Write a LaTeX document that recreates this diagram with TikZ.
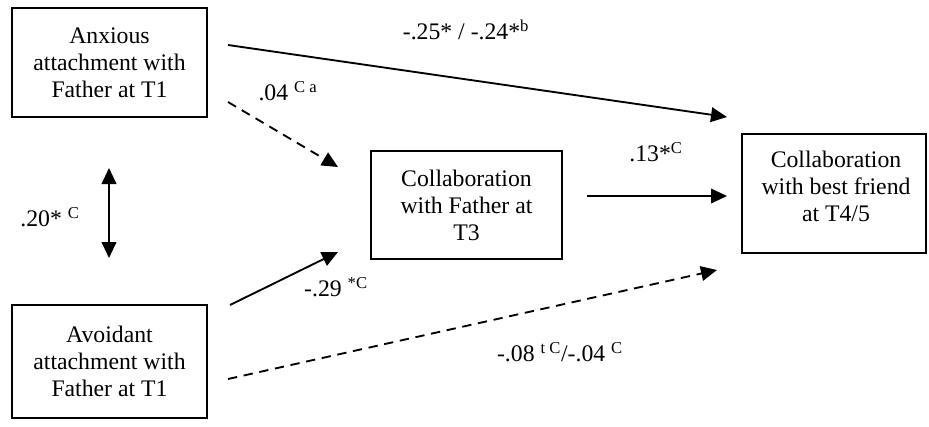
\documentclass[tikz,border=0pt]{standalone}
\usepackage{fontspec}
\setmainfont{Liberation Serif}
\usetikzlibrary{arrows.meta,positioning}

\begin{document}
\begin{tikzpicture}[
  x=0.75pt, y=-0.75pt,
  font=\fontsize{17.8}{20.3}\selectfont,
  box/.style={draw, line width=1.3pt, align=center, inner sep=0pt},
  arrow/.style={-{Triangle[length=12pt, width=11pt]}, line width=1.4pt},
  dasharrow/.style={arrow, dash pattern=on 7pt off 5pt},
  lbl/.style={inner sep=0pt}
]
\useasboundingbox (0,0) rectangle (929,426);
% boxes
\node[box, minimum width=146pt, minimum height=82pt] (anx) at (109.5,62.5) {Anxious\\attachment with\\Father at T1};
\node[box, minimum width=146pt, minimum height=85pt] (avo) at (109.5,361.5) {Avoidant\\attachment with\\Father at T1};
\node[box, minimum width=143pt, minimum height=81pt] (t3) at (466.5,205) {Collaboration\\with Father at\\T3};
\node[box, minimum width=138pt, minimum height=89pt] (t45) at (834,193.5) {};
\node[align=center, inner sep=0pt] (t45txt) at (836,186.5) {Collaboration\\with best friend\\at T4/5};
% arrow ends
\coordinate (anxA) at (228,45);
\coordinate (anxB) at (228,102);
\coordinate (avoA) at (230,305);
\coordinate (avoB) at (228,379);
\coordinate (t3in1) at (338,167);
\coordinate (t3in2) at (338,252);
\coordinate (t3out) at (587,196);
\coordinate (t45in1) at (727,117);
\coordinate (t45in2) at (727,196);
\coordinate (t45in3) at (717,270);
\coordinate (corrA) at (109,168);
\coordinate (corrB) at (109,258);
% paths
\draw[arrow] (anxA) -- (t45in1);
\draw[dasharrow] (anxB) -- (t3in1);
\draw[arrow] (avoA) -- (t3in2);
\draw[arrow] (t3out) -- (t45in2);
\draw[dasharrow] (avoB) -- (t45in3);
\draw[{Triangle[length=12pt, width=11pt]}-{Triangle[length=12pt, width=11pt]}, line width=1.4pt] (corrA) -- (corrB);
% coefficients
\node[lbl] (l1) at (466,30) {-.25* / -.24*\textsuperscript{b}};
\node[lbl] (l2) at (288,91) {.04 \textsuperscript{C a}};
\node[lbl] (l3) at (50,217) {.20* \textsuperscript{C}};
\node[lbl] (l4) at (656,152) {.13*\textsuperscript{C}};
\node[lbl] (l5) at (336,287) {-.29 \textsuperscript{*C}};
\node[lbl] (l6) at (560,352) {-.08 \textsuperscript{t C}/-.04 \textsuperscript{C}};
\end{tikzpicture}
\end{document}
